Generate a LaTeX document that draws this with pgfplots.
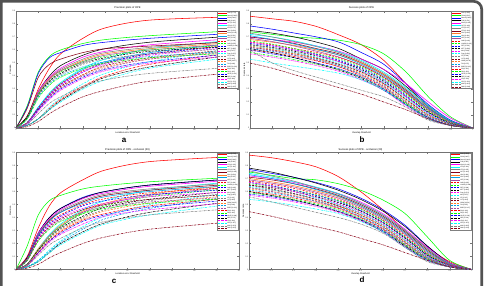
\documentclass[border=0pt]{standalone}
\usepackage{pgfplots}
\pgfplotsset{compat=1.18}
\usepackage{fontspec}
\setmainfont{Liberation Sans}
\definecolor{c1}{rgb}{1,0,0}
\definecolor{c2}{rgb}{0,1,0}
\definecolor{c3}{rgb}{0,0,1}
\definecolor{c4}{rgb}{0,0,0}
\definecolor{c5}{rgb}{1,0,1}
\definecolor{c6}{rgb}{0,1,1}
\definecolor{c7}{rgb}{0.5,0.5,0.5}
\definecolor{c8}{RGB}{136,0,21}
\definecolor{c9}{RGB}{255,127,39}
\definecolor{c10}{RGB}{0,162,232}
\definecolor{c11}{RGB}{163,73,164}
\tikzset{mdash/.style={dash pattern=on 2pt off 1.2pt},mdot/.style={dash pattern=on 2.2pt off 0.8pt on 0.5pt off 0.8pt}}
\pgfplotscreateplotcyclelist{otb}{
c1,solid\\c2,solid\\c3,solid\\c4,solid\\c5,solid\\c6,solid\\c7,solid\\c8,solid\\c9,solid\\c10,solid\\c11,solid\\
c1,mdash\\c2,mdash\\c3,mdash\\c4,mdash\\c5,mdash\\c6,mdash\\c7,mdash\\c8,mdash\\c9,mdash\\c10,mdash\\c11,mdash\\
c1,mdot\\c2,mdot\\c3,mdot\\c4,mdot\\c5,mdot\\c6,mdot\\c7,mdot\\c8,mdot\\}
\pgfplotsset{
 otb/.style={scale only axis, width=223pt, height=117pt, ymin=0, ymax=0.9,
  ytick={0,0.1,0.2,0.3,0.4,0.5,0.6,0.7,0.8,0.9},
  tick align=inside, major tick length=1.6pt,
  axis line style={black!55, line width=0.3pt}, tick style={black!55, line width=0.25pt},
  ticklabel style={font=\fontsize{2}{2}\selectfont, inner sep=0.6pt, text=black!75},
  /pgf/number format/assume math mode=true,
  yticklabel style={/pgf/number format/fixed,/pgf/number format/precision=1},
  label style={font=\fontsize{2.3}{2.6}\selectfont, inner sep=0.5pt},
  every axis title shift=1pt,
  title style={font=\fontsize{2.6}{3}\selectfont, inner sep=0.6pt},
  cycle list name=otb,
  every axis plot/.append style={line width=0.55pt, smooth},
  legend style={at={(1,1)}, anchor=north east, xshift=-0.4pt, yshift=-0.3pt,
    font=\fontsize{1.6}{1.8}\selectfont, inner sep=0.4pt, row sep=0.3pt,
    draw=black!50, line width=0.25pt, fill=white,
    nodes={inner sep=0.25pt, text height=1.4pt, text depth=0.35pt}},
  legend cell align=left,
  legend image code/.code={\draw[line width=0.55pt,##1] (0pt,0pt) -- (9pt,0pt);},
 },
 prec/.style={otb, xmin=0, xmax=50, xtick={0,5,10,15,20,25,30,35,40,45,50},
  xlabel={Location error threshold}, ylabel={Precision}},
 succ/.style={otb, xmin=0, xmax=1, xtick={0,0.1,0.2,0.3,0.4,0.5,0.6,0.7,0.8,0.9,1},
  xticklabel style={/pgf/number format/fixed,/pgf/number format/precision=1},
  xlabel={Overlap threshold}, ylabel={Success rate}},
}
\begin{document}
\begin{tikzpicture}[x=1pt,y=1pt]
\useasboundingbox (0,0) rectangle (491,286);
\draw[line width=2.7pt, black!68] (1.35,-20) -- (1.35,284.65) [rounded corners=8pt] -- (481.7,284.65) -- (481.7,-20);

% ---------------- a ----------------
\begin{axis}[prec, at={(16pt,158pt)}, anchor=south west, title={Precision plots of OPE}]
\addplot coordinates {(0,0)(2.5,.09)(5,.30)(7.5,.46)(10,.57)(15,.69)(20,.77)(30,.83)(50,.856)};
\addplot coordinates {(0,0)(2.5,.17)(5,.43)(7.5,.55)(10,.60)(15,.65)(20,.68)(30,.71)(50,.75)};
\addplot coordinates {(0,0)(2.5,.16)(5,.42)(7.5,.54)(10,.58)(15,.635)(20,.66)(30,.69)(50,.73)};
\addplot coordinates {(0,0)(2.5,.09)(5,.28)(7.5,.40)(10,.48)(15,.56)(20,.61)(30,.66)(50,.71)};
\addplot coordinates {(0,0)(2.5,.08)(5,.28)(7.5,.39)(10,.46)(15,.545)(20,.59)(30,.64)(50,.69)};
\addplot coordinates {(0,0)(2.5,.04)(5,.16)(7.5,.27)(10,.35)(15,.46)(20,.53)(30,.61)(50,.68)};
\addplot coordinates {(0,0)(2.5,.08)(5,.27)(7.5,.38)(10,.45)(15,.53)(20,.58)(30,.62)(50,.67)};
\addplot coordinates {(0,0)(2.5,.15)(5,.39)(7.5,.49)(10,.53)(15,.58)(20,.61)(30,.63)(50,.665)};
\addplot coordinates {(0,0)(2.5,.08)(5,.26)(7.5,.38)(10,.44)(15,.52)(20,.57)(30,.61)(50,.66)};
\addplot coordinates {(0,0)(2.5,.04)(5,.16)(7.5,.26)(10,.34)(15,.45)(20,.51)(30,.58)(50,.655)};
\addplot coordinates {(0,0)(2.5,.08)(5,.26)(7.5,.37)(10,.44)(15,.51)(20,.56)(30,.60)(50,.65)};
\addplot coordinates {(0,0)(2.5,.04)(5,.15)(7.5,.26)(10,.34)(15,.44)(20,.50)(30,.57)(50,.645)};
\addplot coordinates {(0,0)(2.5,.08)(5,.26)(7.5,.36)(10,.43)(15,.51)(20,.55)(30,.60)(50,.64)};
\addplot coordinates {(0,0)(2.5,.04)(5,.15)(7.5,.25)(10,.33)(15,.43)(20,.50)(30,.57)(50,.635)};
\addplot coordinates {(0,0)(2.5,.08)(5,.25)(7.5,.36)(10,.42)(15,.50)(20,.54)(30,.59)(50,.63)};
\addplot coordinates {(0,0)(2.5,.04)(5,.15)(7.5,.25)(10,.33)(15,.43)(20,.49)(30,.56)(50,.625)};
\addplot coordinates {(0,0)(2.5,.02)(5,.07)(7.5,.16)(10,.23)(15,.34)(20,.42)(30,.51)(50,.62)};
\addplot coordinates {(0,0)(2.5,.07)(5,.25)(7.5,.35)(10,.41)(15,.49)(20,.53)(30,.57)(50,.615)};
\addplot coordinates {(0,0)(2.5,.04)(5,.15)(7.5,.24)(10,.32)(15,.41)(20,.48)(30,.54)(50,.61)};
\addplot coordinates {(0,0)(2.5,.04)(5,.14)(7.5,.24)(10,.31)(15,.41)(20,.47)(30,.53)(50,.60)};
\addplot coordinates {(0,0)(2.5,.07)(5,.24)(7.5,.34)(10,.40)(15,.47)(20,.51)(30,.55)(50,.595)};
\addplot coordinates {(0,0)(2.5,.04)(5,.14)(7.5,.24)(10,.31)(15,.40)(20,.46)(30,.53)(50,.59)};
\addplot coordinates {(0,0)(2.5,.02)(5,.07)(7.5,.15)(10,.22)(15,.32)(20,.40)(30,.49)(50,.585)};
\addplot coordinates {(0,0)(2.5,.07)(5,.23)(7.5,.33)(10,.39)(15,.46)(20,.50)(30,.54)(50,.58)};
\addplot coordinates {(0,0)(2.5,.03)(5,.14)(7.5,.23)(10,.30)(15,.39)(20,.45)(30,.51)(50,.575)};
\addplot coordinates {(0,0)(2.5,.02)(5,.07)(7.5,.14)(10,.21)(15,.31)(20,.39)(30,.47)(50,.57)};
\addplot coordinates {(0,0)(2.5,.03)(5,.13)(7.5,.22)(10,.29)(15,.38)(20,.44)(30,.50)(50,.56)};
\addplot coordinates {(0,0)(2.5,.02)(5,.07)(7.5,.14)(10,.20)(15,.30)(20,.37)(30,.46)(50,.55)};
\addplot coordinates {(0,0)(2.5,.03)(5,.11)(7.5,.19)(10,.24)(15,.32)(20,.37)(30,.42)(50,.47)};
\addplot coordinates {(0,0)(2.5,.01)(5,.05)(7.5,.11)(10,.16)(15,.24)(20,.29)(30,.36)(50,.43)};
\legend{Ours [0.770],Struck [0.682],SCM [0.660],TLD [0.612],CXT [0.592],VTD [0.577],VTS [0.575],CSK [0.560],ASLA [0.545],LSK [0.532],LOT [0.522],DFT [0.508],OAB [0.505],L1APG [0.496],MTT [0.485],MIL [0.475],Frag [0.475],CT [0.469],IVT [0.461],ORIA [0.457],TM [0.449],BSBT [0.438],PD [0.432],RS [0.425],LSHT [0.411],SBT [0.404],VR [0.389],CPF [0.376],KMS [0.358],SMS [0.287]}
\end{axis}

% ---------------- b ----------------
\begin{axis}[succ, at={(250pt,158pt)}, anchor=south west, title={Success plots of OPE}]
\addplot coordinates {(0,.86)(0.1,.84)(0.2,.82)(0.3,.78)(0.4,.715)(0.5,.64)(0.6,.52)(0.7,.34)(0.8,.16)(0.9,.05)(1,0)};
\addplot coordinates {(0,.74)(0.1,.72)(0.2,.70)(0.3,.69)(0.4,.675)(0.5,.64)(0.6,.57)(0.7,.43)(0.8,.24)(0.9,.085)(1,0)};
\addplot coordinates {(0,.785)(0.1,.76)(0.2,.73)(0.3,.70)(0.4,.66)(0.5,.58)(0.6,.49)(0.7,.34)(0.8,.18)(0.9,.06)(1,0)};
\addplot coordinates {(0,.75)(0.1,.73)(0.2,.70)(0.3,.66)(0.4,.61)(0.5,.53)(0.6,.45)(0.7,.32)(0.8,.17)(0.9,.055)(1,0)};
\addplot coordinates {(0,.70)(0.1,.68)(0.2,.66)(0.3,.63)(0.4,.59)(0.5,.53)(0.6,.45)(0.7,.34)(0.8,.20)(0.9,.075)(1,0)};
\addplot coordinates {(0,.72)(0.1,.70)(0.2,.67)(0.3,.63)(0.4,.585)(0.5,.52)(0.6,.43)(0.7,.31)(0.8,.17)(0.9,.055)(1,0)};
\addplot coordinates {(0,.73)(0.1,.70)(0.2,.665)(0.3,.625)(0.4,.58)(0.5,.51)(0.6,.42)(0.7,.30)(0.8,.16)(0.9,.05)(1,0)};
\addplot coordinates {(0,.70)(0.1,.68)(0.2,.65)(0.3,.61)(0.4,.57)(0.5,.50)(0.6,.41)(0.7,.29)(0.8,.15)(0.9,.05)(1,0)};
\addplot coordinates {(0,.68)(0.1,.66)(0.2,.635)(0.3,.60)(0.4,.56)(0.5,.50)(0.6,.41)(0.7,.28)(0.8,.14)(0.9,.045)(1,0)};
\addplot coordinates {(0,.71)(0.1,.68)(0.2,.645)(0.3,.605)(0.4,.56)(0.5,.49)(0.6,.40)(0.7,.28)(0.8,.15)(0.9,.05)(1,0)};
\addplot coordinates {(0,.69)(0.1,.665)(0.2,.63)(0.3,.59)(0.4,.545)(0.5,.48)(0.6,.39)(0.7,.27)(0.8,.14)(0.9,.045)(1,0)};
\addplot coordinates {(0,.66)(0.1,.64)(0.2,.61)(0.3,.58)(0.4,.54)(0.5,.48)(0.6,.39)(0.7,.27)(0.8,.13)(0.9,.04)(1,0)};
\addplot coordinates {(0,.67)(0.1,.645)(0.2,.61)(0.3,.57)(0.4,.53)(0.5,.47)(0.6,.38)(0.7,.26)(0.8,.13)(0.9,.04)(1,0)};
\addplot coordinates {(0,.65)(0.1,.63)(0.2,.60)(0.3,.565)(0.4,.52)(0.5,.46)(0.6,.37)(0.7,.25)(0.8,.12)(0.9,.035)(1,0)};
\addplot coordinates {(0,.64)(0.1,.62)(0.2,.59)(0.3,.555)(0.4,.51)(0.5,.45)(0.6,.36)(0.7,.24)(0.8,.12)(0.9,.035)(1,0)};
\addplot coordinates {(0,.66)(0.1,.635)(0.2,.60)(0.3,.56)(0.4,.51)(0.5,.44)(0.6,.35)(0.7,.24)(0.8,.11)(0.9,.03)(1,0)};
\addplot coordinates {(0,.63)(0.1,.61)(0.2,.58)(0.3,.545)(0.4,.50)(0.5,.44)(0.6,.35)(0.7,.23)(0.8,.11)(0.9,.03)(1,0)};
\addplot coordinates {(0,.64)(0.1,.615)(0.2,.58)(0.3,.54)(0.4,.49)(0.5,.43)(0.6,.34)(0.7,.22)(0.8,.10)(0.9,.03)(1,0)};
\addplot coordinates {(0,.62)(0.1,.60)(0.2,.57)(0.3,.535)(0.4,.49)(0.5,.43)(0.6,.34)(0.7,.22)(0.8,.10)(0.9,.03)(1,0)};
\addplot coordinates {(0,.63)(0.1,.605)(0.2,.57)(0.3,.53)(0.4,.48)(0.5,.42)(0.6,.33)(0.7,.21)(0.8,.10)(0.9,.025)(1,0)};
\addplot coordinates {(0,.61)(0.1,.59)(0.2,.56)(0.3,.525)(0.4,.48)(0.5,.41)(0.6,.32)(0.7,.20)(0.8,.09)(0.9,.025)(1,0)};
\addplot coordinates {(0,.62)(0.1,.595)(0.2,.56)(0.3,.52)(0.4,.47)(0.5,.41)(0.6,.32)(0.7,.20)(0.8,.09)(0.9,.02)(1,0)};
\addplot coordinates {(0,.60)(0.1,.58)(0.2,.55)(0.3,.515)(0.4,.47)(0.5,.40)(0.6,.31)(0.7,.19)(0.8,.08)(0.9,.02)(1,0)};
\addplot coordinates {(0,.58)(0.1,.555)(0.2,.525)(0.3,.49)(0.4,.45)(0.5,.39)(0.6,.30)(0.7,.19)(0.8,.08)(0.9,.02)(1,0)};
\addplot coordinates {(0,.60)(0.1,.57)(0.2,.54)(0.3,.50)(0.4,.455)(0.5,.39)(0.6,.30)(0.7,.18)(0.8,.08)(0.9,.02)(1,0)};
\addplot coordinates {(0,.61)(0.1,.58)(0.2,.54)(0.3,.495)(0.4,.445)(0.5,.38)(0.6,.29)(0.7,.18)(0.8,.07)(0.9,.02)(1,0)};
\addplot coordinates {(0,.57)(0.1,.545)(0.2,.515)(0.3,.48)(0.4,.435)(0.5,.37)(0.6,.29)(0.7,.17)(0.8,.07)(0.9,.02)(1,0)};
\addplot coordinates {(0,.53)(0.1,.50)(0.2,.475)(0.3,.45)(0.4,.42)(0.5,.37)(0.6,.29)(0.7,.18)(0.8,.07)(0.9,.02)(1,0)};
\addplot coordinates {(0,.60)(0.1,.50)(0.2,.44)(0.3,.39)(0.4,.34)(0.5,.29)(0.6,.24)(0.7,.16)(0.8,.06)(0.9,.02)(1,0)};
\addplot coordinates {(0,.50)(0.1,.46)(0.2,.41)(0.3,.36)(0.4,.31)(0.5,.26)(0.6,.20)(0.7,.14)(0.8,.07)(0.9,.02)(1,0)};
\legend{Ours [0.585],SCM [0.512],Struck [0.499],TLD [0.474],ASLA [0.465],CXT [0.449],VTS [0.437],VTD [0.434],CSK [0.430],LSK [0.426],LOT [0.421],OAB [0.416],L1APG [0.413],DFT [0.410],MTT [0.398],MIL [0.396],Frag [0.391],CT [0.386],IVT [0.382],ORIA [0.378],TM [0.371],BSBT [0.365],PD [0.361],RS [0.356],LSHT [0.350],SBT [0.344],VR [0.338],CPF [0.333],KMS [0.301],SMS [0.248]}
\end{axis}

% ---------------- c ----------------
\begin{axis}[prec, at={(16pt,16.5pt)}, anchor=south west, title={Precision plots of OPE - occlusion (29)}]
\addplot coordinates {(0,0)(2.5,.10)(5,.32)(7.5,.49)(10,.59)(15,.69)(20,.765)(30,.83)(50,.87)};
\addplot coordinates {(0,0)(2.5,.18)(5,.42)(7.5,.53)(10,.57)(15,.62)(20,.645)(30,.675)(50,.71)};
\addplot coordinates {(0,0)(2.5,.09)(5,.28)(7.5,.40)(10,.47)(15,.555)(20,.60)(30,.65)(50,.70)};
\addplot coordinates {(0,0)(2.5,.09)(5,.28)(7.5,.40)(10,.47)(15,.55)(20,.60)(30,.65)(50,.70)};
\addplot coordinates {(0,0)(2.5,.08)(5,.28)(7.5,.39)(10,.46)(15,.545)(20,.59)(30,.64)(50,.69)};
\addplot coordinates {(0,0)(2.5,.04)(5,.16)(7.5,.27)(10,.35)(15,.46)(20,.53)(30,.61)(50,.68)};
\addplot coordinates {(0,0)(2.5,.08)(5,.27)(7.5,.38)(10,.45)(15,.53)(20,.58)(30,.62)(50,.67)};
\addplot coordinates {(0,0)(2.5,.08)(5,.26)(7.5,.38)(10,.44)(15,.52)(20,.57)(30,.61)(50,.66)};
\addplot coordinates {(0,0)(2.5,.04)(5,.16)(7.5,.26)(10,.34)(15,.45)(20,.51)(30,.58)(50,.655)};
\addplot coordinates {(0,0)(2.5,.08)(5,.26)(7.5,.37)(10,.44)(15,.51)(20,.56)(30,.60)(50,.65)};
\addplot coordinates {(0,0)(2.5,.04)(5,.15)(7.5,.26)(10,.33)(15,.44)(20,.50)(30,.57)(50,.64)};
\addplot coordinates {(0,0)(2.5,.08)(5,.25)(7.5,.36)(10,.42)(15,.50)(20,.545)(30,.59)(50,.635)};
\addplot coordinates {(0,0)(2.5,.04)(5,.15)(7.5,.25)(10,.33)(15,.43)(20,.49)(30,.56)(50,.63)};
\addplot coordinates {(0,0)(2.5,.07)(5,.25)(7.5,.35)(10,.41)(15,.49)(20,.53)(30,.575)(50,.62)};
\addplot coordinates {(0,0)(2.5,.04)(5,.15)(7.5,.24)(10,.32)(15,.41)(20,.48)(30,.54)(50,.61)};
\addplot coordinates {(0,0)(2.5,.07)(5,.24)(7.5,.34)(10,.40)(15,.47)(20,.51)(30,.56)(50,.60)};
\addplot coordinates {(0,0)(2.5,.02)(5,.07)(7.5,.15)(10,.22)(15,.33)(20,.41)(30,.50)(50,.60)};
\addplot coordinates {(0,0)(2.5,.04)(5,.14)(7.5,.24)(10,.31)(15,.40)(20,.46)(30,.53)(50,.59)};
\addplot coordinates {(0,0)(2.5,.07)(5,.23)(7.5,.33)(10,.39)(15,.46)(20,.50)(30,.54)(50,.58)};
\addplot coordinates {(0,0)(2.5,.03)(5,.14)(7.5,.23)(10,.30)(15,.39)(20,.45)(30,.51)(50,.575)};
\addplot coordinates {(0,0)(2.5,.02)(5,.07)(7.5,.14)(10,.21)(15,.31)(20,.39)(30,.47)(50,.57)};
\addplot coordinates {(0,0)(2.5,.07)(5,.22)(7.5,.32)(10,.38)(15,.44)(20,.48)(30,.52)(50,.56)};
\addplot coordinates {(0,0)(2.5,.03)(5,.13)(7.5,.22)(10,.29)(15,.38)(20,.43)(30,.49)(50,.555)};
\addplot coordinates {(0,0)(2.5,.07)(5,.22)(7.5,.31)(10,.37)(15,.43)(20,.47)(30,.51)(50,.55)};
\addplot coordinates {(0,0)(2.5,.03)(5,.13)(7.5,.22)(10,.28)(15,.37)(20,.42)(30,.48)(50,.54)};
\addplot coordinates {(0,0)(2.5,.02)(5,.06)(7.5,.13)(10,.20)(15,.29)(20,.36)(30,.44)(50,.53)};
\addplot coordinates {(0,0)(2.5,.03)(5,.12)(7.5,.21)(10,.27)(15,.35)(20,.41)(30,.46)(50,.52)};
\addplot coordinates {(0,0)(2.5,.02)(5,.06)(7.5,.13)(10,.19)(15,.28)(20,.35)(30,.42)(50,.51)};
\addplot coordinates {(0,0)(2.5,.03)(5,.11)(7.5,.19)(10,.24)(15,.32)(20,.37)(30,.42)(50,.47)};
\addplot coordinates {(0,0)(2.5,.01)(5,.04)(7.5,.09)(10,.13)(15,.20)(20,.25)(30,.31)(50,.37)};
\legend{Ours [0.765],Struck [0.645],SCM [0.640],TLD [0.563],VTD [0.545],CXT [0.491],VTS [0.534],ASLA [0.460],CSK [0.500],LSK [0.515],LOT [0.467],DFT [0.481],L1APG [0.461],OAB [0.492],MTT [0.443],MIL [0.428],Frag [0.452],CT [0.412],IVT [0.455],ORIA [0.435],TM [0.449],BSBT [0.402],PD [0.393],RS [0.405],LSHT [0.384],SBT [0.372],VR [0.366],CPF [0.357],KMS [0.351],SMS [0.252]}
\end{axis}

% ---------------- d ----------------
\begin{axis}[succ, at={(249pt,16.5pt)}, anchor=south west, title={Success plots of OPE - occlusion (29)}]
\addplot coordinates {(0,.88)(0.1,.86)(0.2,.83)(0.3,.79)(0.4,.715)(0.5,.60)(0.6,.46)(0.7,.30)(0.8,.17)(0.9,.06)(1,0)};
\addplot coordinates {(0,.75)(0.1,.725)(0.2,.70)(0.3,.69)(0.4,.66)(0.5,.61)(0.6,.535)(0.7,.43)(0.8,.25)(0.9,.07)(1,0)};
\addplot coordinates {(0,.77)(0.1,.74)(0.2,.71)(0.3,.67)(0.4,.62)(0.5,.55)(0.6,.46)(0.7,.34)(0.8,.18)(0.9,.05)(1,0)};
\addplot coordinates {(0,.78)(0.1,.75)(0.2,.71)(0.3,.665)(0.4,.61)(0.5,.54)(0.6,.45)(0.7,.33)(0.8,.18)(0.9,.05)(1,0)};
\addplot coordinates {(0,.72)(0.1,.70)(0.2,.67)(0.3,.63)(0.4,.585)(0.5,.52)(0.6,.43)(0.7,.31)(0.8,.17)(0.9,.05)(1,0)};
\addplot coordinates {(0,.74)(0.1,.71)(0.2,.675)(0.3,.635)(0.4,.585)(0.5,.51)(0.6,.42)(0.7,.30)(0.8,.16)(0.9,.045)(1,0)};
\addplot coordinates {(0,.76)(0.1,.72)(0.2,.68)(0.3,.63)(0.4,.58)(0.5,.51)(0.6,.42)(0.7,.30)(0.8,.16)(0.9,.045)(1,0)};
\addplot coordinates {(0,.71)(0.1,.69)(0.2,.66)(0.3,.62)(0.4,.57)(0.5,.50)(0.6,.41)(0.7,.29)(0.8,.15)(0.9,.04)(1,0)};
\addplot coordinates {(0,.70)(0.1,.675)(0.2,.645)(0.3,.605)(0.4,.56)(0.5,.49)(0.6,.40)(0.7,.28)(0.8,.14)(0.9,.04)(1,0)};
\addplot coordinates {(0,.73)(0.1,.70)(0.2,.66)(0.3,.615)(0.4,.565)(0.5,.49)(0.6,.40)(0.7,.28)(0.8,.14)(0.9,.04)(1,0)};
\addplot coordinates {(0,.69)(0.1,.665)(0.2,.635)(0.3,.595)(0.4,.55)(0.5,.48)(0.6,.39)(0.7,.27)(0.8,.13)(0.9,.035)(1,0)};
\addplot coordinates {(0,.68)(0.1,.655)(0.2,.625)(0.3,.585)(0.4,.54)(0.5,.47)(0.6,.38)(0.7,.26)(0.8,.12)(0.9,.035)(1,0)};
\addplot coordinates {(0,.66)(0.1,.64)(0.2,.61)(0.3,.575)(0.4,.53)(0.5,.465)(0.6,.375)(0.7,.25)(0.8,.12)(0.9,.03)(1,0)};
\addplot coordinates {(0,.67)(0.1,.645)(0.2,.61)(0.3,.57)(0.4,.525)(0.5,.455)(0.6,.365)(0.7,.245)(0.8,.11)(0.9,.03)(1,0)};
\addplot coordinates {(0,.65)(0.1,.63)(0.2,.60)(0.3,.56)(0.4,.515)(0.5,.45)(0.6,.36)(0.7,.24)(0.8,.11)(0.9,.03)(1,0)};
\addplot coordinates {(0,.67)(0.1,.64)(0.2,.60)(0.3,.555)(0.4,.505)(0.5,.44)(0.6,.35)(0.7,.23)(0.8,.10)(0.9,.03)(1,0)};
\addplot coordinates {(0,.64)(0.1,.615)(0.2,.585)(0.3,.55)(0.4,.50)(0.5,.435)(0.6,.345)(0.7,.225)(0.8,.10)(0.9,.025)(1,0)};
\addplot coordinates {(0,.63)(0.1,.61)(0.2,.58)(0.3,.54)(0.4,.495)(0.5,.43)(0.6,.34)(0.7,.22)(0.8,.10)(0.9,.025)(1,0)};
\addplot coordinates {(0,.65)(0.1,.62)(0.2,.585)(0.3,.54)(0.4,.49)(0.5,.42)(0.6,.33)(0.7,.21)(0.8,.09)(0.9,.025)(1,0)};
\addplot coordinates {(0,.62)(0.1,.60)(0.2,.57)(0.3,.53)(0.4,.485)(0.5,.42)(0.6,.33)(0.7,.21)(0.8,.09)(0.9,.02)(1,0)};
\addplot coordinates {(0,.61)(0.1,.59)(0.2,.56)(0.3,.525)(0.4,.48)(0.5,.41)(0.6,.32)(0.7,.20)(0.8,.09)(0.9,.02)(1,0)};
\addplot coordinates {(0,.63)(0.1,.60)(0.2,.565)(0.3,.525)(0.4,.475)(0.5,.405)(0.6,.315)(0.7,.20)(0.8,.085)(0.9,.02)(1,0)};
\addplot coordinates {(0,.60)(0.1,.58)(0.2,.55)(0.3,.515)(0.4,.47)(0.5,.40)(0.6,.31)(0.7,.19)(0.8,.08)(0.9,.02)(1,0)};
\addplot coordinates {(0,.59)(0.1,.57)(0.2,.54)(0.3,.505)(0.4,.46)(0.5,.39)(0.6,.30)(0.7,.19)(0.8,.08)(0.9,.02)(1,0)};
\addplot coordinates {(0,.58)(0.1,.56)(0.2,.53)(0.3,.495)(0.4,.45)(0.5,.385)(0.6,.30)(0.7,.18)(0.8,.075)(0.9,.02)(1,0)};
\addplot coordinates {(0,.60)(0.1,.57)(0.2,.535)(0.3,.495)(0.4,.445)(0.5,.38)(0.6,.29)(0.7,.18)(0.8,.07)(0.9,.02)(1,0)};
\addplot coordinates {(0,.57)(0.1,.55)(0.2,.52)(0.3,.485)(0.4,.44)(0.5,.375)(0.6,.29)(0.7,.17)(0.8,.07)(0.9,.02)(1,0)};
\addplot coordinates {(0,.54)(0.1,.52)(0.2,.495)(0.3,.465)(0.4,.43)(0.5,.37)(0.6,.29)(0.7,.17)(0.8,.07)(0.9,.02)(1,0)};
\addplot coordinates {(0,.56)(0.1,.52)(0.2,.48)(0.3,.44)(0.4,.40)(0.5,.35)(0.6,.28)(0.7,.17)(0.8,.06)(0.9,.02)(1,0)};
\addplot coordinates {(0,.445)(0.1,.41)(0.2,.37)(0.3,.33)(0.4,.29)(0.5,.24)(0.6,.19)(0.7,.13)(0.8,.07)(0.9,.02)(1,0)};
\legend{Ours [0.562],SCM [0.487],Struck [0.464],TLD [0.455],ASLA [0.441],VTD [0.431],VTS [0.425],CXT [0.418],LSK [0.409],CSK [0.405],LOT [0.396],OAB [0.392],L1APG [0.389],DFT [0.384],MTT [0.380],Frag [0.374],MIL [0.370],CT [0.367],IVT [0.361],ORIA [0.356],TM [0.351],BSBT [0.347],PD [0.340],RS [0.335],LSHT [0.330],SBT [0.326],VR [0.321],CPF [0.314],KMS [0.305],SMS [0.233]}
\end{axis}

\node[font=\bfseries\fontsize{8}{8}\selectfont] at (124,146) {a};
\node[font=\bfseries\fontsize{8}{8}\selectfont] at (362,146) {b};
\node[font=\bfseries\fontsize{8}{8}\selectfont] at (114,5) {c};
\node[font=\bfseries\fontsize{8}{8}\selectfont] at (362,6) {d};
\end{tikzpicture}
\end{document}
